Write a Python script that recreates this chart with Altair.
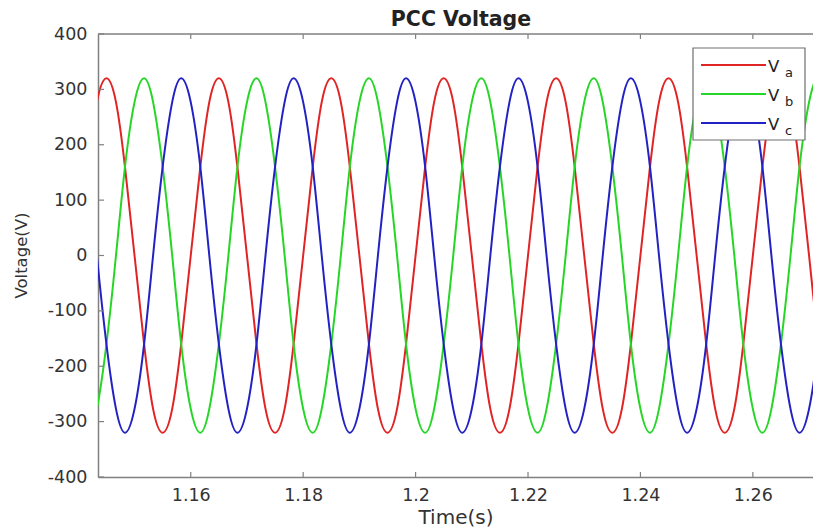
import altair as alt
import pandas as pd

# Sample times (s): every 30 electrical degrees (50 Hz)
time_s = [
    1.1400, 1.1417, 1.1433, 1.1450, 1.1467, 1.1483, 1.1500, 1.1517, 1.1533, 1.1550, 1.1567, 1.1583,
    1.1600, 1.1617, 1.1633, 1.1650, 1.1667, 1.1683, 1.1700, 1.1717, 1.1733, 1.1750, 1.1767, 1.1783,
    1.1800, 1.1817, 1.1833, 1.1850, 1.1867, 1.1883, 1.1900, 1.1917, 1.1933, 1.1950, 1.1967, 1.1983,
    1.2000, 1.2017, 1.2033, 1.2050, 1.2067, 1.2083, 1.2100, 1.2117, 1.2133, 1.2150, 1.2167, 1.2183,
    1.2200, 1.2217, 1.2233, 1.2250, 1.2267, 1.2283, 1.2300, 1.2317, 1.2333, 1.2350, 1.2367, 1.2383,
    1.2400, 1.2417, 1.2433, 1.2450, 1.2467, 1.2483, 1.2500, 1.2517, 1.2533, 1.2550, 1.2567, 1.2583,
    1.2600, 1.2617, 1.2633, 1.2650, 1.2667, 1.2683, 1.2700, 1.2717, 1.2733,
]
va = [
    0, 160, 277, 320, 277, 160, 0, -160, -277, -320, -277, -160,
    0, 160, 277, 320, 277, 160, 0, -160, -277, -320, -277, -160,
    0, 160, 277, 320, 277, 160, 0, -160, -277, -320, -277, -160,
    0, 160, 277, 320, 277, 160, 0, -160, -277, -320, -277, -160,
    0, 160, 277, 320, 277, 160, 0, -160, -277, -320, -277, -160,
    0, 160, 277, 320, 277, 160, 0, -160, -277, -320, -277, -160,
    0, 160, 277, 320, 277, 160, 0, -160, -277,
]
vb = [
    -277, -320, -277, -160, 0, 160, 277, 320, 277, 160, 0, -160,
    -277, -320, -277, -160, 0, 160, 277, 320, 277, 160, 0, -160,
    -277, -320, -277, -160, 0, 160, 277, 320, 277, 160, 0, -160,
    -277, -320, -277, -160, 0, 160, 277, 320, 277, 160, 0, -160,
    -277, -320, -277, -160, 0, 160, 277, 320, 277, 160, 0, -160,
    -277, -320, -277, -160, 0, 160, 277, 320, 277, 160, 0, -160,
    -277, -320, -277, -160, 0, 160, 277, 320, 277,
]
vc = [
    277, 160, 0, -160, -277, -320, -277, -160, 0, 160, 277, 320,
    277, 160, 0, -160, -277, -320, -277, -160, 0, 160, 277, 320,
    277, 160, 0, -160, -277, -320, -277, -160, 0, 160, 277, 320,
    277, 160, 0, -160, -277, -320, -277, -160, 0, 160, 277, 320,
    277, 160, 0, -160, -277, -320, -277, -160, 0, 160, 277, 320,
    277, 160, 0, -160, -277, -320, -277, -160, 0, 160, 277, 320,
    277, 160, 0, -160, -277, -320, -277, -160, 0,
]
phases = ["Va", "Vb", "Vc"]
subs = ["a", "b", "c"]
colors = ["#e02424", "#26d626", "#2222c4"]
x_ticks = [1.16, 1.18, 1.2, 1.22, 1.24, 1.26]
y_ticks = [-400, -300, -200, -100, 0, 100, 200, 300, 400]

W, H = 715, 443
FONT = "DejaVu Sans"
AXC = "#808080"
TXT = "#333333"

df = pd.DataFrame({
    "t": time_s * 3,
    "v": va + vb + vc,
    "phase": ["Va"] * len(time_s) + ["Vb"] * len(time_s) + ["Vc"] * len(time_s),
})

xs = alt.Scale(domain=[1.1435, 1.2707], nice=False, zero=False)
ys = alt.Scale(domain=[-400, 400], nice=False, zero=False)

lines = alt.Chart(df).mark_line(interpolate="natural", strokeWidth=2, clip=True).encode(
    x=alt.X("t:Q", scale=xs, axis=alt.Axis(
        values=x_ticks, format=".2~f", title="Time(s)", grid=False, ticks=False, tickSize=0,
        labelPadding=9, labelFont=FONT, labelFontSize=17.5, labelColor=TXT,
        domainColor=AXC, domainWidth=1.5, labelFlush=False,
        titleFont=FONT, titleFontSize=20, titleFontWeight="normal", titleColor=TXT,
        titleBaseline="top", titleY=30)),
    y=alt.Y("v:Q", scale=ys, axis=alt.Axis(
        values=y_ticks, labelExpr="'' + datum.value", title="Voltage(V)", grid=False,
        ticks=False, tickSize=0, labelPadding=11, labelFont=FONT, labelFontSize=17.5,
        labelColor=TXT, domainColor=AXC, domainWidth=1.5, labelOverlap=False,
        titleFont=FONT, titleFontSize=16.5, titleFontWeight="normal", titleColor=TXT,
        titleAngle=-90, titleBaseline="middle", titleAlign="center", titleX=-77, titleY=221)),
    color=alt.Color("phase:N", scale=alt.Scale(domain=phases, range=colors), legend=None),
)

xt = pd.DataFrame({"t": x_ticks})
yt = pd.DataFrame({"v": y_ticks})
one = pd.DataFrame({"k": [0]})

bottom_ticks = alt.Chart(xt).mark_rule(color=AXC, strokeWidth=1.2).encode(
    x=alt.X("t:Q", scale=xs), y=alt.value(H), y2=alt.value(H - 5))
top_ticks = alt.Chart(xt).mark_rule(color=AXC, strokeWidth=1.2).encode(
    x=alt.X("t:Q", scale=xs), y=alt.value(0), y2=alt.value(5))
left_ticks = alt.Chart(yt).mark_rule(color=AXC, strokeWidth=1.2).encode(
    y=alt.Y("v:Q", scale=ys), x=alt.value(0), x2=alt.value(6))
top_border = alt.Chart(one).mark_rule(color=AXC, strokeWidth=1.5).encode(
    x=alt.value(0), x2=alt.value(W), y=alt.value(0))
title_text = alt.Chart(one).mark_text(
    font=FONT, fontSize=20.5, fontWeight="bold", color="#222222",
    align="center", baseline="alphabetic").encode(
    x=alt.value(363), y=alt.value(-8), text=alt.value("PCC Voltage"))

legend_layers = [
    alt.Chart(one).mark_rect(fill="white", stroke="#6e6e6e", strokeWidth=1.2).encode(
        x=alt.value(595), x2=alt.value(707), y=alt.value(14), y2=alt.value(106))
]
for i, (c, s) in enumerate(zip(colors, subs)):
    y0 = 31 + i * 29
    legend_layers.append(alt.Chart(one).mark_rule(color=c, strokeWidth=2).encode(
        x=alt.value(603), x2=alt.value(668), y=alt.value(y0)))
    legend_layers.append(alt.Chart(one).mark_text(
        font=FONT, fontSize=16.5, color="#222", align="left", baseline="middle").encode(
        x=alt.value(670), y=alt.value(y0 + 1.5), text=alt.value("V")))
    legend_layers.append(alt.Chart(one).mark_text(
        font=FONT, fontSize=13, color="#222", align="left", baseline="middle").encode(
        x=alt.value(687), y=alt.value(y0 + 7.5), text=alt.value(s)))

chart = alt.layer(
    lines, bottom_ticks, top_ticks, left_ticks, top_border, title_text, *legend_layers
).properties(
    width=W, height=H,
    autosize="none",
    padding={"left": 98, "top": 34, "right": 0, "bottom": 54},
).configure_view(stroke=None)

chart.save("out.html", embed_options={"renderer": "svg", "actions": False})
